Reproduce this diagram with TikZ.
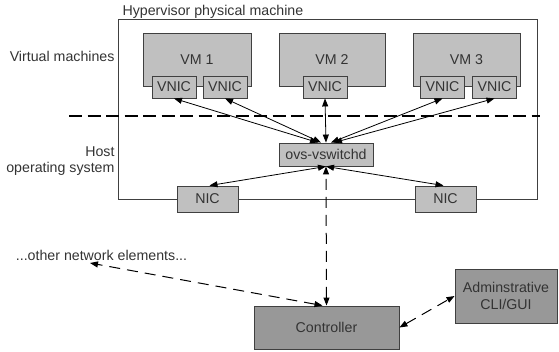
\documentclass[tikz,border=0pt]{standalone}
\usepackage{fontspec}
\setmainfont{Liberation Sans}
\usetikzlibrary{arrows.meta}
\definecolor{lightbox}{RGB}{192,192,192}
\definecolor{darkbox}{RGB}{152,152,152}
\definecolor{ink}{RGB}{51,51,51}
\definecolor{edge}{RGB}{64,64,64}
\begin{document}
\begin{tikzpicture}[x=1pt,y=-1pt,
  font=\fontsize{14.2}{16.5}\selectfont,
  every node/.style={text=ink},
  box/.style={draw=edge, line width=0.9pt, inner sep=0pt},
  lbox/.style={box, fill=lightbox},
  dbox/.style={box, fill=darkbox},
  vnicbox/.style={lbox, minimum width=44pt, minimum height=22pt},
  nicbox/.style={lbox, minimum width=61pt, minimum height=26pt},
  vmbox/.style={lbox, minimum height=53pt},
  link/.style={{Triangle[length=8pt,width=6pt]}-{Triangle[length=8pt,width=6pt]}, line width=0.8pt, black},
  dlink/.style={link, dash pattern=on 11pt off 7pt, line width=1pt},
  layer/.style={black, line width=2pt, dash pattern=on 13pt off 5.5pt}]
\useasboundingbox (0,0) rectangle (559,351);

% hypervisor machine outline and its caption
\node[box, fill=white, minimum width=419pt, minimum height=180pt] (hyp) at (327.5,109) {};
\node[anchor=west] (hyplabel) at (119,12) {Hypervisor physical machine};

% layer captions
\node[anchor=east] (vmlabel) at (118,56) {Virtual machines};
\node[anchor=east, align=right] (hostlabel) at (118,161) {Host\\operating system};

% virtual machines
\node[vmbox, minimum width=108pt] (vm1) at (197,59.5) {VM 1};
\node[vmbox, minimum width=106pt] (vm2) at (332,59.5) {VM 2};
\node[vmbox, minimum width=107pt] (vm3) at (466.5,59.5) {VM 3};

% virtual NICs
\node[vnicbox] (v1a) at (174,87) {VNIC};
\node[vnicbox] (v1b) at (225,87) {VNIC};
\node[vnicbox] (v2)  at (325,87) {VNIC};
\node[vnicbox] (v3a) at (442.5,87) {VNIC};
\node[vnicbox] (v3b) at (494.5,87) {VNIC};

% boundary between guests and host
\coordinate (sepL) at (69,116);
\coordinate (sepR) at (540,116);
\draw[layer] (sepL) -- (sepR);

% host side
\node[lbox, minimum width=94pt, minimum height=23pt] (ovs) at (326,154.5) {ovs-vswitchd};
\node[nicbox] (nic1) at (207.5,199) {NIC};
\node[nicbox] (nic2) at (445.5,199) {NIC};

% controller and admin tools
\node[dbox, minimum width=145pt, minimum height=43pt] (ctrl) at (326.5,327.5) {Controller};
\node[dbox, minimum width=102pt, minimum height=54pt, align=center] (admin) at (506,296) {Adminstrative\\CLI/GUI};
\node (other) at (101.5,255) {...other network elements...};
\coordinate (otherend) at (90,263);

% switch to virtual NICs
\draw[link] ([xshift=-8pt]ovs.north) -- (v1a.south);
\draw[link] ([xshift=-5pt]ovs.north) -- (v1b.south);
\draw[link] (ovs.north) -- (v2.south);
\draw[link] ([xshift=5pt]ovs.north) -- (v3a.south);
\draw[link] ([xshift=8pt]ovs.north) -- (v3b.south);

% switch to physical NICs
\draw[link] (ovs.south) -- ([xshift=2pt]nic1.north);
\draw[link] (ovs.south) -- ([xshift=-2pt]nic2.north);

% control channels
\draw[dlink] (ctrl.north) -- (ovs.south);
\draw[dlink] ([xshift=-4pt]ctrl.north) -- (otherend);
\draw[dlink] (ctrl.east) -- (admin.west);
\end{tikzpicture}
\end{document}
